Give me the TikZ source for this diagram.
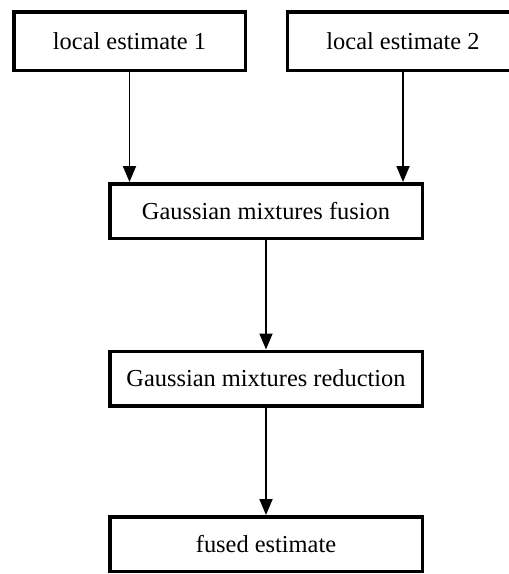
\documentclass[tikz,border=0pt]{standalone}
\usepackage{fontspec}
\setmainfont{Liberation Serif}
\usetikzlibrary{arrows.meta}
\begin{document}
\begin{tikzpicture}[x=1pt,y=-1pt,
  blk/.style={draw, line width=3.5pt, rectangle, inner sep=0pt, font=\fontsize{24.4}{28}\selectfont},
  topblk/.style={blk, minimum width=231.5pt, minimum height=58.5pt},
  midblk/.style={blk, minimum width=312.5pt, minimum height=54.5pt},
  conn/.style={line width=1.8pt, -{Triangle[length=16pt,width=13pt]}}]
\useasboundingbox (0,0) rectangle (509,574);
\node[topblk] (l1) at (129.5,41) {local estimate 1};
\node[topblk] (l2) at (403,41) {local estimate 2};
\node[midblk] (fus) at (266,211) {Gaussian mixtures fusion};
\node[midblk] (red) at (266,378.5) {Gaussian mixtures reduction};
\node[midblk] (fe) at (266,544) {fused estimate};
\draw[conn] (l1.south) -- (l1.south |- fus.north);
\draw[conn] (l2.south) -- (l2.south |- fus.north);
\draw[conn] (fus.south) -- (red.north);
\draw[conn] (red.south) -- (fe.north);
\end{tikzpicture}
\end{document}
